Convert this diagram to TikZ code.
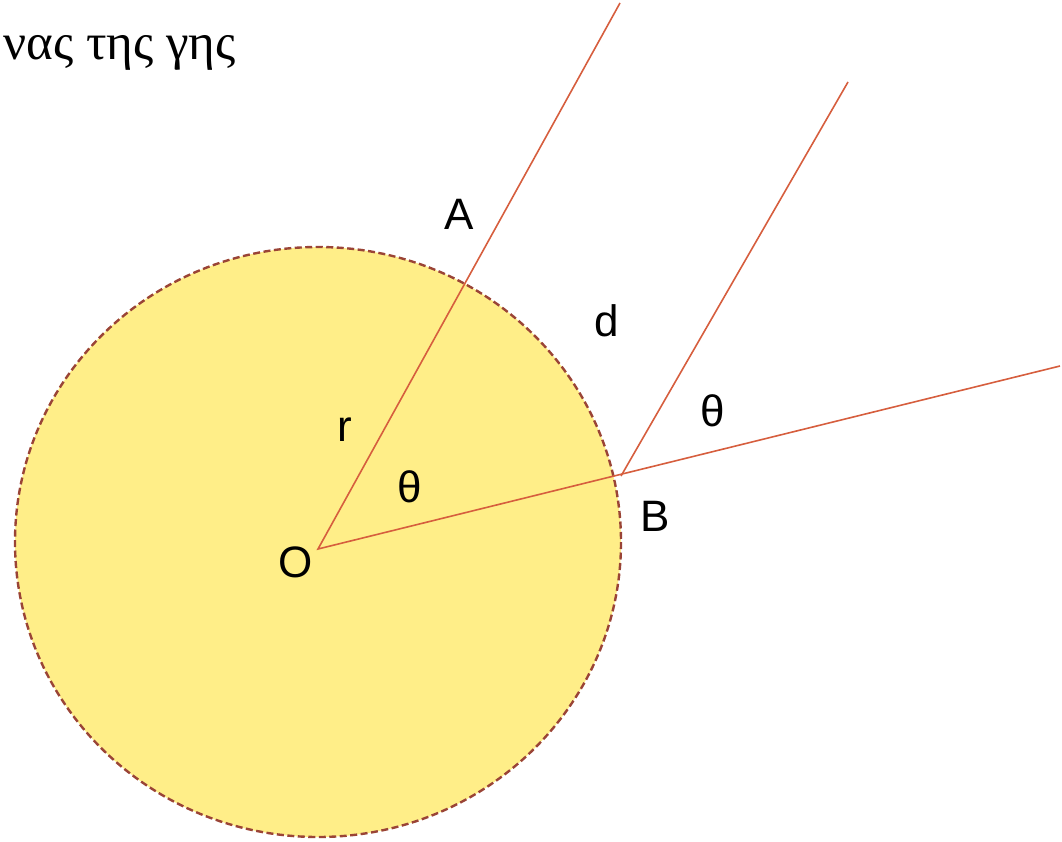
\documentclass[tikz,border=0pt]{standalone}
\usepackage{fontspec}
\setmainfont{Liberation Sans}
\newfontfamily\grk{Liberation Serif}
\definecolor{earth}{HTML}{FFEE88}
\definecolor{rim}{HTML}{9A4436}
\definecolor{ray}{HTML}{D65E3E}
\tikzset{
  lbl/.style={anchor=base, inner sep=0pt, font=\fontsize{44}{50}\selectfont},
  rayline/.style={draw=ray, line width=1.6pt},
}
\begin{document}
\begin{tikzpicture}[x=1pt,y=-1pt]
\useasboundingbox (0,0) rectangle (1062,841);
\fill[earth] (318,542) ellipse [x radius=303, y radius=295];
\draw[rim, line width=2.4pt, dash pattern=on 7pt off 3.5pt] (318,542) ellipse [x radius=303, y radius=295];
\coordinate (O) at (318,549);
\coordinate (Aend) at (620,3);
\coordinate (Bp) at (621,476);
\coordinate (top2) at (848,82);
\coordinate (Bend) at (1060,366);
\draw[rayline] (Aend) -- (O) -- (Bend);
\draw[rayline] (Bp) -- (top2);
\node[anchor=base east, inner sep=0pt, font=\grk\fontsize{51}{56}\selectfont] (title) at (236,59) {νας της γης};
\node[lbl] (lA) at (459,229) {A};
\node[lbl] (ld) at (607,336) {d};
\node[lbl] (lt1) at (713,426) {θ};
\node[lbl] (lr) at (345,441) {r};
\node[lbl] (lt2) at (410,502) {θ};
\node[lbl] (lB) at (655,531) {B};
\node[lbl] (lO) at (296,577) {O};
\end{tikzpicture}
\end{document}
